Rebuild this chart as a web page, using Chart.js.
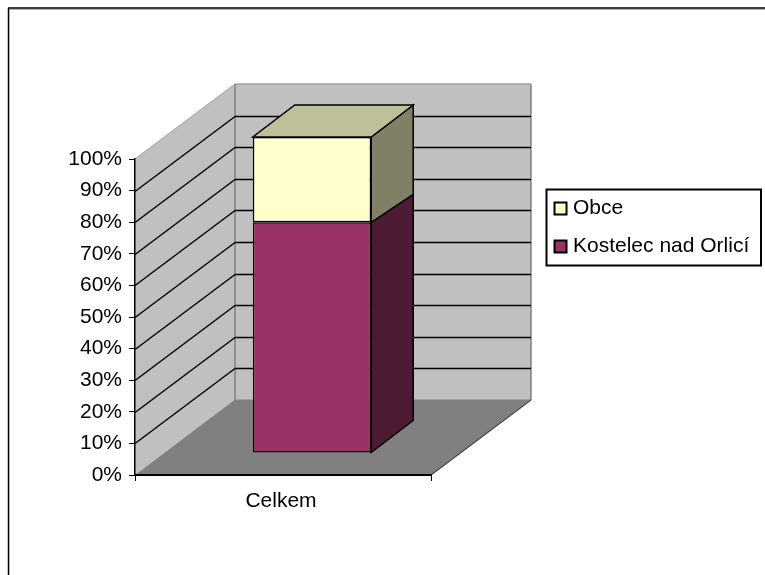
<!DOCTYPE html>
<html>
<head>
<meta charset="utf-8">
<style>html,body{margin:0;padding:0;background:#fff}canvas{display:block}</style>
<script src="https://cdn.jsdelivr.net/npm/chart.js@4"></script>
</head>
<body>
<div style="width:765px;height:575px"><canvas id="c" width="765" height="575"></canvas></div>
<script>
const categories = ['Celkem'];
const kostelec = [73];
const obce = [27];
const seriesNames = ['Kostelec nad Orlicí', 'Obce'];
const seriesColors = ['#993366', '#FFFFCC'];
const sideColors = ['#4D1A33', '#808066'];
const topColor = '#BFBF99';

const FONT = 'Liberation Sans, Arial, sans-serif';
const FS = 21;
const wall = {dx: 100, dy: -75};
const barFront = {dx: 29, dy: -22};
const barDepth = {dx: 42, dy: -32};

function poly(ctx, pts, fill, stroke, lw) {
  ctx.beginPath();
  pts.forEach((p, i) => i ? ctx.lineTo(p[0], p[1]) : ctx.moveTo(p[0], p[1]));
  ctx.closePath();
  if (fill) { ctx.fillStyle = fill; ctx.fill(); }
  if (stroke) { ctx.strokeStyle = stroke; ctx.lineWidth = lw || 1; ctx.stroke(); }
}
function line(ctx, x1, y1, x2, y2, c, w) {
  ctx.beginPath(); ctx.moveTo(x1, y1); ctx.lineTo(x2, y2);
  ctx.strokeStyle = c; ctx.lineWidth = w || 1; ctx.stroke();
}

const scene = {
  id: 'scene',
  beforeDraw(chart) {
    const ctx = chart.ctx, {x, y} = chart.scales;
    const L = chart.chartArea.left, R = chart.chartArea.right;
    const y0 = y.getPixelForValue(0), y100 = y.getPixelForValue(100);
    const bx = wall.dx, by = wall.dy;
    ctx.save();
    ctx.fillStyle = '#fff'; ctx.fillRect(0, 0, chart.width, chart.height);
    // outer frame
    line(ctx, 8, 8, chart.width, 8, '#000', 1.5);
    line(ctx, 8.5, 8, 8.5, chart.height, '#000', 1.5);
    line(ctx, 9, 9.5, chart.width, 9.5, '#b0b0b0', 1);
    line(ctx, 9.5, 9, 9.5, chart.height, '#b0b0b0', 1);
    // back wall, side wall, floor
    poly(ctx, [[L + bx, y100 + by], [R + bx, y100 + by], [R + bx, y0 + by], [L + bx, y0 + by]], '#C0C0C0');
    poly(ctx, [[L, y0], [L + bx, y0 + by], [L + bx, y100 + by], [L, y100]], '#C0C0C0');
    poly(ctx, [[L, y0], [R, y0], [R + bx, y0 + by - 0.5], [L + bx, y0 + by - 0.5]], '#808080');
    line(ctx, L, y100, L + bx, y100 + by, '#a0a0a0', 1);
    line(ctx, L + bx, y100 + by, R + bx, y100 + by, '#a0a0a0', 1.5);
    line(ctx, L + bx, y100 + by, L + bx, y0 + by, '#808080', 1.5);
    line(ctx, R + bx, y100 + by, R + bx, y0 + by, '#808080', 1.5);
    line(ctx, R, y0, R + bx, y0 + by, '#444', 1.2);
    // gridlines on both walls
    y.ticks.forEach(t => {
      if (t.value === 0 || t.value === 100) return;
      const py = Math.round(y.getPixelForValue(t.value)) + 0.5;
      line(ctx, L, py, L + bx, py + by, '#000', 1.5);
      line(ctx, L + bx, py + by, R + bx, py + by, '#000', 1.5);
    });
    ctx.restore();
  },
  beforeDatasetsDraw(chart) {
    const ctx = chart.ctx, m0 = chart.getDatasetMeta(0).data[0], m1 = chart.getDatasetMeta(1).data[0];
    const hw = m0.width / 2, dx = barDepth.dx, dy = barDepth.dy;
    ctx.save();
    ctx.translate(barFront.dx, barFront.dy);
    const r = m0.x + hw;
    // side and top faces of the stacked box
    poly(ctx, [[r, m0.base], [r + dx, m0.base + dy], [r + dx, m0.y + dy + 4], [r, m0.y]], sideColors[0], '#000', 1.5);
    poly(ctx, [[r, m1.base], [r + dx, m1.base + dy + 4], [r + dx, m1.y + dy], [r, m1.y]], sideColors[1], '#000', 1.5);
    poly(ctx, [[m1.x - hw, m1.y], [r, m1.y], [r + dx, m1.y + dy], [m1.x - hw + dx, m1.y + dy]], topColor, '#000', 1.5);
  },
  afterDatasetsDraw(chart) {
    const ctx = chart.ctx;
    ctx.restore();
    // legend
    ctx.save();
    poly(ctx, [[546.5, 189.5], [761, 189.5], [761, 265.5], [546.5, 265.5]], '#fff', '#000', 2);
    ctx.font = FS + 'px ' + FONT;
    ctx.textBaseline = 'middle';
    ctx.textAlign = 'left';
    [[1, 208], [0, 246]].forEach(([i, cy]) => {
      const ds = chart.data.datasets[i];
      ctx.fillStyle = ds.backgroundColor;
      ctx.fillRect(554.5, cy - 5.5, 12, 12);
      ctx.strokeStyle = '#000'; ctx.lineWidth = 2;
      ctx.strokeRect(554.5, cy - 5.5, 12, 12);
      ctx.fillStyle = '#000';
      ctx.fillText(ds.label, 573, cy);
    });
    ctx.restore();
  }
};

new Chart(document.getElementById('c'), {
  type: 'bar',
  data: {
    labels: categories,
    datasets: [
      {label: seriesNames[0], data: kostelec, backgroundColor: seriesColors[0], borderColor: '#000', borderWidth: 1.5, borderSkipped: false},
      {label: seriesNames[1], data: obce, backgroundColor: seriesColors[1], borderColor: '#000', borderWidth: 1.5, borderSkipped: false}
    ]
  },
  options: {
    responsive: false,
    animation: false,
    layout: {padding: {left: 0, top: 159, right: 334, bottom: 0}},
    datasets: {bar: {barPercentage: 1, categoryPercentage: 0.4}},
    plugins: {legend: {display: false}, tooltip: {enabled: false}, title: {display: false}},
    scales: {
      x: {
        stacked: true,
        afterFit(s) { s.height = 100; },
        grid: {drawOnChartArea: false, drawTicks: true, tickLength: 6, color: '#000', tickColor: '#000'},
        border: {color: '#000', width: 2},
        ticks: {color: '#000', font: {family: FONT, size: FS}, padding: 8, labelOffset: -2}
      },
      y: {
        stacked: true,
        min: 0, max: 100,
        afterFit(s) { s.width = 135; },
        grid: {drawOnChartArea: false, drawTicks: true, tickLength: 6, color: '#000', tickColor: '#000'},
        border: {color: '#000', width: 1.5},
        ticks: {stepSize: 10, color: '#000', font: {family: FONT, size: FS}, padding: 7, callback: v => v + '%'}
      }
    }
  },
  plugins: [scene]
});
</script>
</body>
</html>
